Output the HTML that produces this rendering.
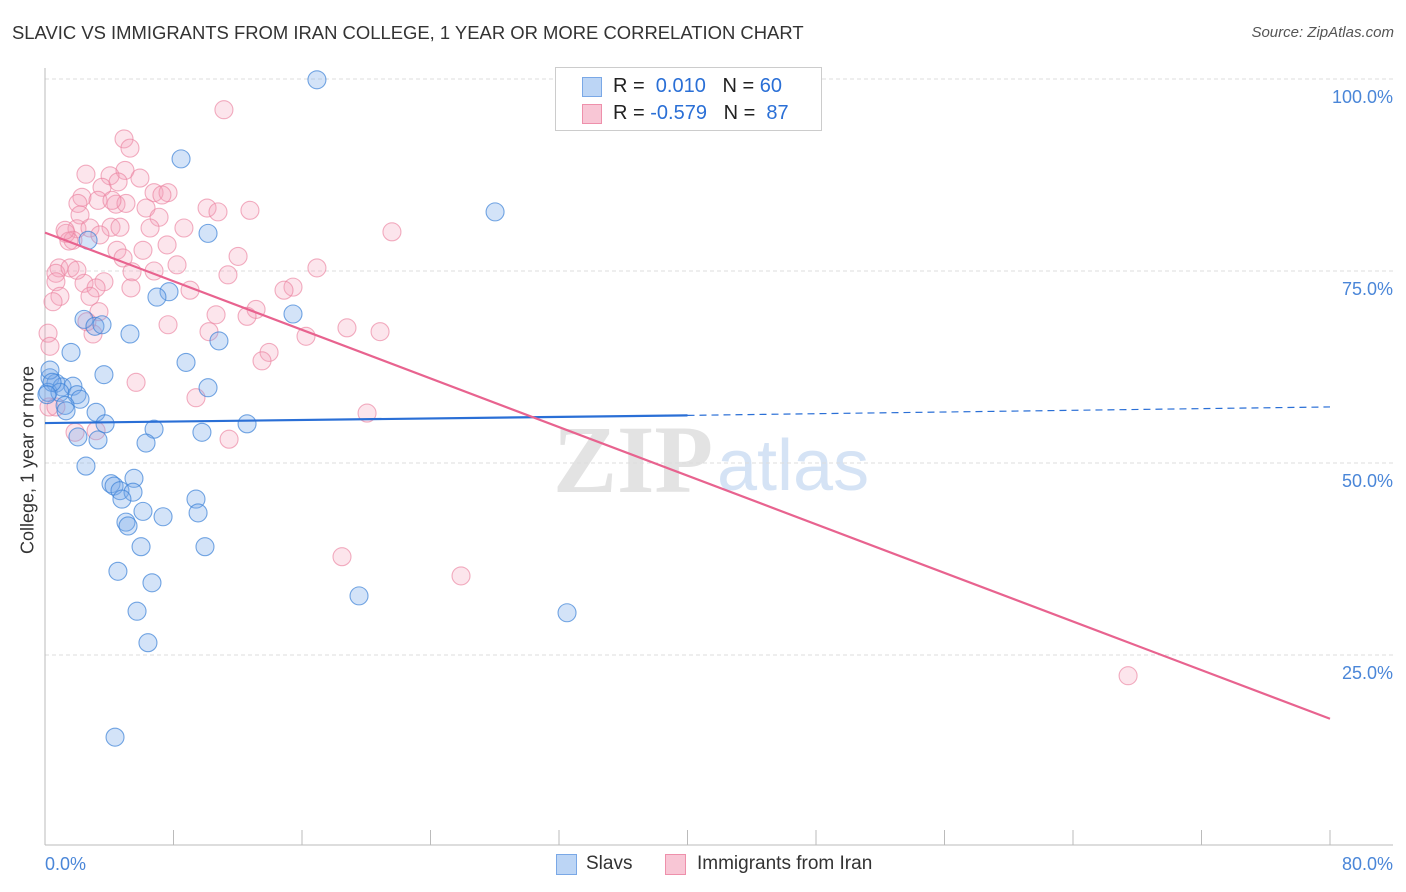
<!DOCTYPE html>
<html><head><meta charset="utf-8"><style>
body{margin:0;background:#fff;font-family:"Liberation Sans",sans-serif;}
#wrap{position:relative;width:1406px;height:892px;overflow:hidden;}
.t{position:absolute;white-space:nowrap;}
</style></head><body>
<div id="wrap">
<div class="t" style="left:12px;top:22px;font-size:18.45px;color:#333;">SLAVIC VS IMMIGRANTS FROM IRAN COLLEGE, 1 YEAR OR MORE CORRELATION CHART</div>
<div class="t" style="right:12px;top:24px;font-size:15px;color:#555;font-style:italic;">Source: ZipAtlas.com</div>
<svg id="svg" width="1406" height="892" style="position:absolute;left:0;top:0"></svg>
<div style="position:absolute;left:555px;top:67px;width:265px;height:62px;border:1px solid #ccc;background:#fff;">
 <div style="position:absolute;left:26px;top:9px;width:18px;height:18px;background:#bcd5f5;border:1px solid #7aa8e6;"></div>
 <div class="t" style="left:57px;top:7px;font-size:20px;color:#222;">R = <span style="color:#2a6fd6">&nbsp;0.010</span>&nbsp;&nbsp;&nbsp;N = <span style="color:#2a6fd6">60</span></div>
 <div style="position:absolute;left:26px;top:36px;width:18px;height:18px;background:#f8c6d5;border:1px solid #ee90ab;"></div>
 <div class="t" style="left:57px;top:34px;font-size:20px;color:#222;">R = <span style="color:#2a6fd6">-0.579</span>&nbsp;&nbsp;&nbsp;N = <span style="color:#2a6fd6">&nbsp;87</span></div>
</div>
<div class="t" style="left:18px;top:460px;font-size:18px;color:#333;transform:translate(-50%,-50%) rotate(-90deg);transform-origin:center;margin-left:10px;">College, 1 year or more</div>
<div style="position:absolute;left:556px;top:854px;width:19px;height:19px;background:#bcd5f5;border:1px solid #7aa8e6;"></div>
<div class="t" style="left:586px;top:853px;font-size:19px;color:#333;">Slavs</div>
<div style="position:absolute;left:665px;top:854px;width:19px;height:19px;background:#f8c6d5;border:1px solid #ee90ab;"></div>
<div class="t" style="left:697px;top:853px;font-size:19px;color:#333;">Immigrants from Iran</div>
</div>
<script>
const xTickVals=[0,8,16,24,32,40,48,56,64,72,80];
const yTickVals=[25,50,75,100];
const yTickLabels=["25.0%","50.0%","75.0%","100.0%"];
const xEndLabels=["0.0%","80.0%"];
const slavX=[16.93,8.47,28.02,10.15,2.68,7.72,6.97,15.44,2.43,3.11,3.55,5.29,10.83,1.62,8.78,3.67,0.31,0.68,1.06,10.15,1.74,0.19,0.93,1.99,2.18,1.25,3.18,1.31,3.74,12.58,6.79,9.77,2.05,3.30,6.29,2.55,5.54,4.11,4.30,4.67,5.48,4.79,9.40,6.10,9.53,7.35,5.04,5.17,5.98,9.96,4.54,6.66,19.55,32.5,5.73,6.41,4.36,0.31,0.44,0.12];
const slavY=[99.9,89.6,82.7,79.9,79.0,72.3,71.6,69.4,68.7,67.8,68.0,66.8,65.9,64.4,63.1,61.5,61.1,60.4,59.9,59.8,60.0,59.2,59.2,58.9,58.3,57.5,56.6,56.8,55.1,55.1,54.4,54.0,53.4,53.0,52.6,49.6,48.0,47.3,47.0,46.4,46.2,45.3,45.3,43.7,43.5,43.0,42.3,41.8,39.1,39.1,35.9,34.4,32.7,30.5,30.7,26.6,14.3,62.1,60.5,58.9];
const iranX=[11.14,4.92,5.29,4.98,2.55,4.05,3.55,2.30,6.79,7.66,7.28,10.09,2.05,3.30,4.42,5.04,10.77,6.29,2.18,7.10,1.99,1.31,2.80,4.11,4.67,8.65,21.6,1.74,1.49,7.60,4.48,12.02,4.86,8.22,0.87,0.68,1.56,6.79,5.42,16.93,11.39,0.68,2.43,3.67,3.18,5.35,15.44,14.88,0.93,2.80,0.50,13.14,12.58,10.65,3.36,2.61,7.66,18.8,20.86,10.21,2.99,16.25,0.19,0.31,13.95,13.51,5.67,9.40,20.05,11.46,3.18,1.87,0.25,18.49,25.9,67.43,0.68,1.25,4.17,4.55,5.91,3.42,1.99,6.10,9.03,12.76,6.54];
const iranY=[96.0,92.2,91.0,88.1,87.6,87.4,85.9,84.6,85.2,85.2,84.9,83.2,83.8,84.2,83.7,83.8,82.7,83.2,82.3,82.0,80.5,79.9,80.6,80.7,80.7,80.6,80.1,79.0,78.9,78.4,77.7,76.9,76.7,75.8,75.4,74.7,75.4,75.0,74.9,75.4,74.5,73.6,73.4,73.6,72.8,72.8,72.9,72.5,71.7,71.7,71.0,70.0,69.1,69.3,69.7,68.4,68.0,67.6,67.1,67.1,66.8,66.5,66.9,65.2,64.4,63.3,60.5,58.5,56.5,53.1,54.2,54.0,57.3,37.8,35.3,22.3,57.3,80.3,84.2,86.6,87.1,79.7,75.1,77.7,72.5,82.9,80.6];
const slavTrendX=[0,40,80];
const slavTrendY=[55.2,56.2,57.3];
const iranTrendX=[0,80];
const iranTrendY=[80.0,16.7];

const X0=45,X1=1330,YB=847,YT=79;
const sx=v=>X0+(X1-X0)*v/80;
const sy=v=>YB-(YB-YT)*v/100;
const svg=document.getElementById('svg');
const NS='http://www.w3.org/2000/svg';
function mk(tag,attrs){const e=document.createElementNS(NS,tag);for(const k in attrs)e.setAttribute(k,attrs[k]);svg.appendChild(e);return e;}
let w1=mk('text',{x:553,y:492,'font-size':96,'font-family':'Liberation Serif,serif',fill:'#e3e3e3','font-weight':'bold'});w1.textContent='ZIP';


let w2=mk('text',{x:717,y:490,'font-size':72,'font-family':'Liberation Sans,sans-serif',fill:'#d5e3f5'});w2.textContent='atlas';


yTickVals.forEach((v,i)=>{
 const g=mk('line',{x1:X0,x2:1393,y1:sy(v),y2:sy(v),stroke:'#ddd','stroke-dasharray':'4,3'});
 
 
 const t=mk('text',{x:1393,y:sy(v)+24,'text-anchor':'end','font-size':18,fill:'#4a86d8','font-family':'Liberation Sans,sans-serif'});
 t.textContent=yTickLabels[i];
 
 
});
let ax=mk('line',{x1:X0,x2:1393,y1:845,y2:845,stroke:'#bbb'});


let ay=mk('line',{x1:X0,x2:X0,y1:68,y2:845,stroke:'#bbb'});


xTickVals.forEach(v=>{
 const t=mk('line',{x1:sx(v),x2:sx(v),y1:830,y2:845,stroke:'#bbb'});
 
 
});
[[0,'start',45],[80,'end',1393]].forEach((a,i)=>{
 const t=mk('text',{x:a[2],y:870,'text-anchor':a[1],'font-size':18,fill:'#4a86d8','font-family':'Liberation Sans,sans-serif'});
 t.textContent=xEndLabels[i];
 
 
});
function pts(xs,ys,fill,stroke,name){
 xs.forEach((x,i)=>{
  const c=mk('circle',{cx:sx(x),cy:sy(ys[i]),r:9,fill:fill,stroke:stroke,'stroke-width':1.1});
  
  
 });
}
pts(iranX,iranY,'rgba(245,160,185,0.28)','rgba(235,130,160,0.65)','iran-point');
pts(slavX,slavY,'rgba(120,170,235,0.33)','rgba(60,130,215,0.7)','slav-point');
let sl=mk('line',{x1:sx(slavTrendX[0]),y1:sy(slavTrendY[0]),x2:sx(slavTrendX[1]),y2:sy(slavTrendY[1]),stroke:'#2a6fd6','stroke-width':2.2});


let sd=mk('line',{x1:sx(slavTrendX[1]),y1:sy(slavTrendY[1]),x2:sx(slavTrendX[2]),y2:sy(slavTrendY[2]),stroke:'#2a6fd6','stroke-width':1.2,'stroke-dasharray':'7,5'});


let il=mk('line',{x1:sx(iranTrendX[0]),y1:sy(iranTrendY[0]),x2:sx(iranTrendX[1]),y2:sy(iranTrendY[1]),stroke:'#e8638f','stroke-width':2.2});


</script>
</body></html>
